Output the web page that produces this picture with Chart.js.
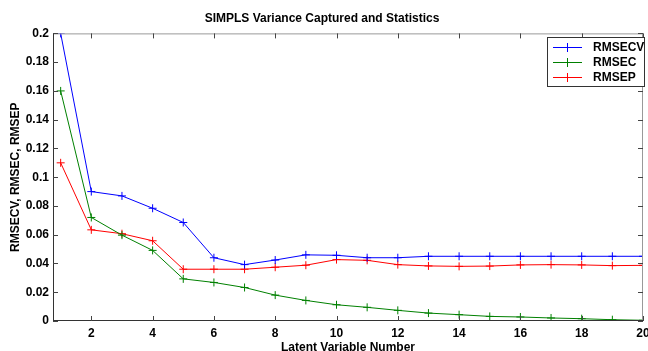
<!DOCTYPE html>
<html>
<head>
<meta charset="utf-8">
<script src="https://cdn.jsdelivr.net/npm/chart.js@4.4.1/dist/chart.umd.min.js"></script>
<style>
  html, body { margin: 0; padding: 0; background: #fff; }
  #wrap { width: 648px; height: 351px; }
</style>
</head>
<body>
<div id="wrap"><canvas id="plsChart" width="648" height="351"></canvas></div>
<script>
// latent variable numbers
const latentVars = [1, 2, 3, 4, 5, 6, 7, 8, 9, 10, 11, 12, 13, 14, 15, 16, 17, 18, 19, 20];
const rmsecv = [0.200, 0.090, 0.087, 0.0784, 0.0685, 0.044, 0.0392, 0.0424, 0.046, 0.0457,
                0.044, 0.044, 0.045, 0.045, 0.045, 0.045, 0.045, 0.045, 0.045, 0.045];
const rmsec = [0.160, 0.072, 0.0597, 0.0491, 0.0293, 0.0268, 0.0233, 0.018, 0.0143, 0.0113,
               0.0095, 0.0074, 0.0055, 0.0044, 0.0032, 0.0028, 0.0021, 0.0016, 0.0009, 0.0005];
const rmsep = [0.110, 0.0634, 0.0607, 0.0558, 0.036, 0.036, 0.036, 0.0374, 0.0388, 0.0427,
               0.0422, 0.0392, 0.0383, 0.038, 0.0382, 0.039, 0.0392, 0.039, 0.0385, 0.0387];
const seriesNames = ['RMSECV', 'RMSEC', 'RMSEP'];
const seriesColors = ['#0000ff', '#008000', '#ff0000'];
const xTicks = [2, 4, 6, 8, 10, 12, 14, 16, 18, 20];
const yTicks = [0, 0.02, 0.04, 0.06, 0.08, 0.1, 0.12, 0.14, 0.16, 0.18, 0.2];

const FONT = 'Arial, "Liberation Sans", sans-serif';

const toPoints = (arr) => latentVars.map((x, i) => ({ x: x, y: arr[i] }));

const mkSet = (i, data) => ({
    label: seriesNames[i],
    data: toPoints(data),
    borderColor: seriesColors[i],
    backgroundColor: seriesColors[i],
    borderWidth: 1,
    pointStyle: 'cross',
    pointRadius: 4,
    pointBorderWidth: 1,
    pointHoverRadius: 4,
    tension: 0,
    fill: false
});

// matlab style frame, inward ticks and boxed legend
const matlabFrame = {
    id: 'matlabFrame',
    afterDatasetsDraw(chart) {
        const { ctx, chartArea: a, scales } = chart;
        ctx.save();
        ctx.lineWidth = 1;
        // frame
        ctx.strokeStyle = '#999';
        ctx.beginPath();
        ctx.moveTo(a.left, a.top + 0.5);
        ctx.lineTo(a.right, a.top + 0.5);
        ctx.moveTo(a.right - 0.5, a.top);
        ctx.lineTo(a.right - 0.5, a.bottom);
        ctx.stroke();
        ctx.strokeStyle = '#333';
        ctx.beginPath();
        ctx.moveTo(a.left + 0.5, a.top);
        ctx.lineTo(a.left + 0.5, a.bottom);
        ctx.moveTo(a.left, a.bottom - 0.5);
        ctx.lineTo(a.right, a.bottom - 0.5);
        ctx.stroke();
        // ticks
        ctx.strokeStyle = '#444';
        ctx.beginPath();
        xTicks.forEach(v => {
            const px = Math.round(scales.x.getPixelForValue(v)) + 0.5;
            ctx.moveTo(px, a.bottom); ctx.lineTo(px, a.bottom - 5);
            ctx.moveTo(px, a.top); ctx.lineTo(px, a.top + 5);
        });
        yTicks.forEach(v => {
            const py = Math.round(scales.y.getPixelForValue(v)) + 0.5;
            ctx.moveTo(a.left, py); ctx.lineTo(a.left + 5, py);
            ctx.moveTo(a.right, py); ctx.lineTo(a.right - 5, py);
        });
        ctx.stroke();

        // legend
        const bx = 547, by = 37, bw = 97, bh = 49;
        ctx.fillStyle = '#fff';
        ctx.fillRect(bx, by, bw, bh);
        ctx.strokeStyle = '#333';
        ctx.strokeRect(bx + 0.5, by + 0.5, bw, bh);
        ctx.font = 'bold 12px ' + FONT;
        ctx.textBaseline = 'middle';
        seriesNames.forEach((name, i) => {
            const y = Math.round(by + 10 + i * 15);
            ctx.fillStyle = seriesColors[i];
            ctx.fillRect(553, y, 29, 1);
            ctx.fillRect(567, y - 4, 1, 9);
            ctx.fillStyle = '#000';
            ctx.fillText(name, 593, y + 1);
        });
        ctx.restore();
    }
};

new Chart(document.getElementById('plsChart').getContext('2d'), {
    type: 'line',
    data: {
        datasets: [
            mkSet(0, rmsecv),
            mkSet(1, rmsec),
            mkSet(2, rmsep)
        ]
    },
    options: {
        responsive: false,
        animation: false,
        layout: { padding: { left: 0, right: 4, top: 0, bottom: 0 } },
        plugins: {
            legend: { display: false },
            tooltip: { enabled: false },
            title: {
                display: true,
                text: 'SIMPLS Variance Captured and Statistics',
                color: '#000',
                font: { family: FONT, size: 12, weight: 'bold' },
                padding: { top: 11, bottom: 8 }
            }
        },
        scales: {
            x: {
                type: 'linear',
                min: 0.75,
                max: 20,
                afterBuildTicks: (s) => { s.ticks = xTicks.map(v => ({ value: v })); },
                afterFit: (s) => { s.height = 30; s.paddingLeft = 0; s.paddingRight = 0; },
                grid: { display: false, drawTicks: false },
                border: { display: false },
                ticks: {
                    color: '#000',
                    padding: 5,
                    maxRotation: 0,
                    font: { family: FONT, size: 12, weight: 'bold' },
                    callback: (v) => String(v)
                },
                title: {
                    display: true,
                    text: 'Latent Variable Number',
                    color: '#000',
                    padding: { top: 0, bottom: -3 },
                    font: { family: FONT, size: 12, weight: 'bold', lineHeight: 1 }
                }
            },
            y: {
                min: 0,
                max: 0.2,
                afterBuildTicks: (s) => { s.ticks = yTicks.map(v => ({ value: v })); },
                afterFit: (s) => { s.width = 53; },
                grid: { display: false, drawTicks: false },
                border: { display: false },
                ticks: {
                    color: '#000',
                    padding: 4,
                    font: { family: FONT, size: 12, weight: 'bold' },
                    callback: (v) => String(+Number(v).toFixed(2))
                },
                title: {
                    display: true,
                    text: 'RMSECV, RMSEC, RMSEP',
                    color: '#000',
                    padding: { top: 8, bottom: 0 },
                    font: { family: FONT, size: 12, weight: 'bold' }
                }
            }
        }
    },
    plugins: [matlabFrame]
});
</script>
</body>
</html>
